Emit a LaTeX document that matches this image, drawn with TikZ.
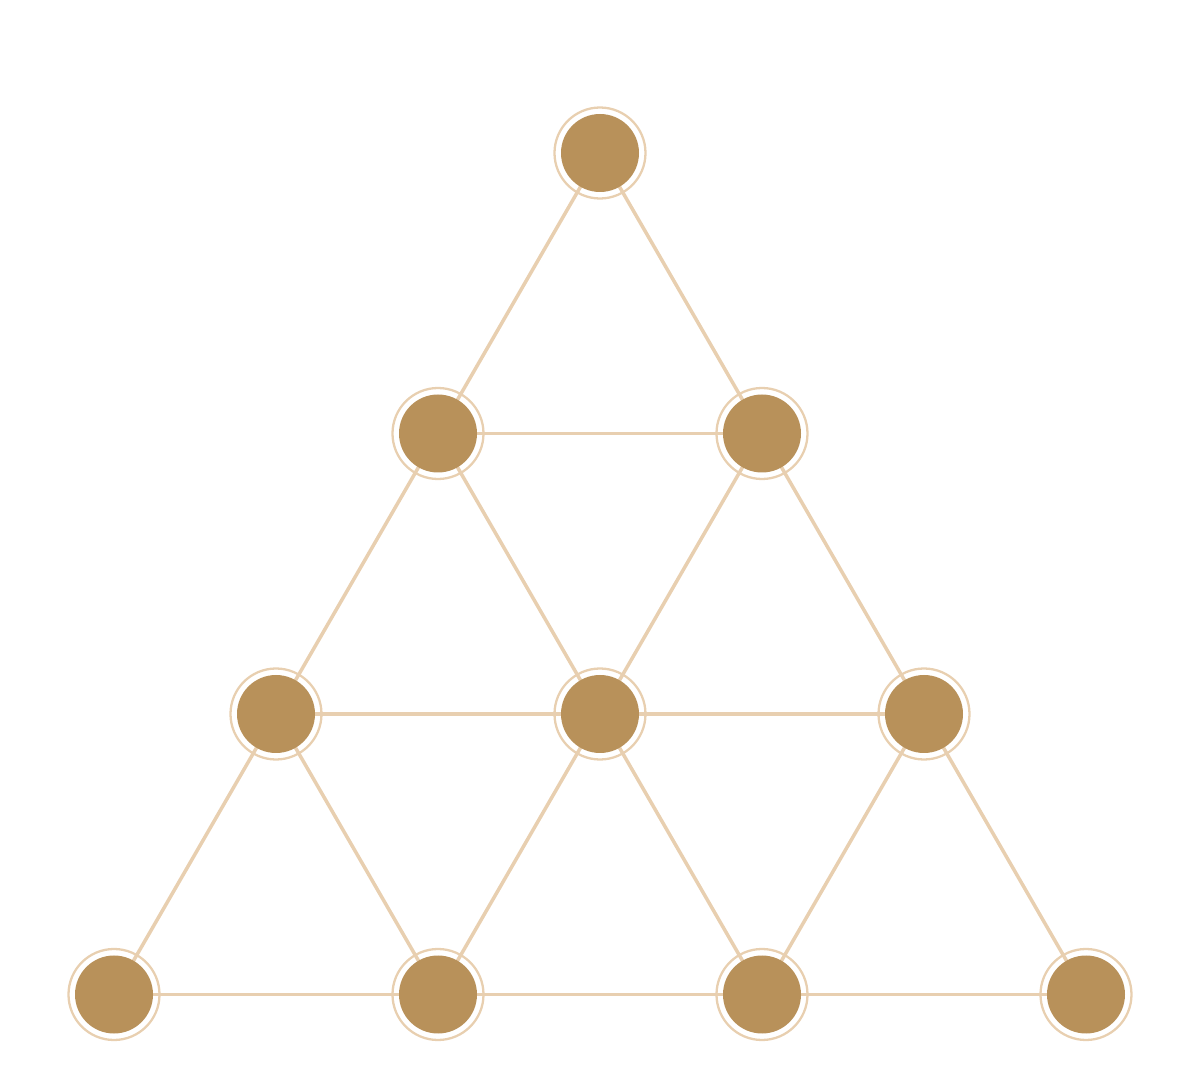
\documentclass[tikz,border=0pt]{standalone}
\usetikzlibrary{backgrounds}
\definecolor{beadfill}{HTML}{B8915A}
\definecolor{linkcol}{HTML}{E8CFB0}
\tikzset{
  bead/.style={circle, fill=beadfill, minimum size=0.78cm, inner sep=0pt},
  halo/.style={circle, draw=linkcol, line width=0.65pt, minimum size=0.91cm, inner sep=0pt},
  link/.style={draw=linkcol, line width=1pt},
}
\begin{document}
\begin{tikzpicture}
  \useasboundingbox (0,0) rectangle (12,10.7);

  % beads, row by row from the top
  \foreach \r in {1,...,4}
    \foreach \c in {1,...,\r}{
      \node[halo] (h-\r-\c) at ({6+(2*\c-\r-1)*1.62},{9.17-(\r-1)*2.805}) {};
      \node[bead] (b-\r-\c) at (h-\r-\c) {};
    }

  \begin{scope}[on background layer]
    % slanted links
    \foreach \r in {1,2,3}
      \foreach \c in {1,...,\r}{
        \pgfmathtruncatemacro\rnext{\r+1}
        \pgfmathtruncatemacro\cnext{\c+1}
        \draw[link] (b-\r-\c.center) -- (b-\rnext-\c.center);
        \draw[link] (b-\r-\c.center) -- (b-\rnext-\cnext.center);
      }
    % level links
    \foreach \r in {2,3,4}{
      \pgfmathtruncatemacro\clast{\r-1}
      \foreach \c in {1,...,\clast}{
        \pgfmathtruncatemacro\cnext{\c+1}
        \draw[link] (b-\r-\c.center) -- (b-\r-\cnext.center);
      }
    }
  \end{scope}
\end{tikzpicture}
\end{document}
